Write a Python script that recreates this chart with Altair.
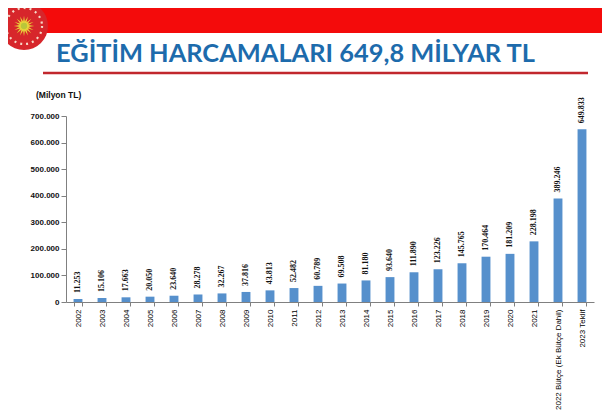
import math
import altair as alt
import pandas as pd

categories = [str(y) for y in range(2002, 2022)] + ["2022 Bütçe (Ek Bütçe Dahil)", "2023 Teklif"]
values = [11253, 15106, 17663, 20050, 23640, 28278, 32267, 37816, 43813, 52482,
          60789, 69508, 81180, 93640, 111890, 123226, 145765, 170464, 181209,
          228198, 389246, 649833]
labels = [f"{v:,}".replace(",", ".") for v in values]
y_ticks = [0, 100000, 200000, 300000, 400000, 500000, 600000, 700000]

title_text = "EĞİTİM HARCAMALARI 649,8 MİLYAR TL"
unit_text = "(Milyon TL)"

df = pd.DataFrame({"cat": categories, "value": values, "label": labels})
one = pd.DataFrame({"k": [0]})

# decorative sun-burst path for emblem
pts = []
n = 16
for i in range(2 * n):
    r = 1.0 if i % 2 == 0 else 0.45
    a = math.pi * i / n
    pts.append(f"{r*math.cos(a):.3f},{r*math.sin(a):.3f}")
sun_path = "M" + "L".join(pts) + "Z"

W, H = 528, 186

x_scale = alt.Scale(paddingInner=0.63, paddingOuter=0.315)
y_scale = alt.Scale(domain=[0, 700000], nice=False)

x_axis = alt.Axis(title=None, labelAngle=-90, labelFont="Liberation Sans",
                  labelFontSize=8, labelColor="#000000", labelPadding=3,
                  tickBand="extent", tickSize=4, tickColor="#808080",
                  domainColor="#808080", labelAlign="right",
                  labelBaseline="middle", labelOverlap=False)
y_axis = alt.Axis(title=None, values=y_ticks, grid=False,
                  labelExpr="replace(format(datum.value, ','), ',', '.')",
                  labelFont="Liberation Sans", labelFontSize=8,
                  labelFontWeight="bold", labelColor="#111111",
                  labelOverlap=False, labelFlush=False,
                  tickSize=5, tickColor="#808080", domainColor="#808080",
                  labelPadding=2)

x_enc = alt.X("cat:N", sort=categories, scale=x_scale, axis=x_axis)
y_enc = alt.Y("value:Q", scale=y_scale, axis=y_axis)

bars = alt.Chart(df).mark_bar(color="#5690cc").encode(x=x_enc, y=y_enc)
texts = alt.Chart(df).mark_text(angle=270, align="left", baseline="middle", dx=6,
                                font="Liberation Serif", fontWeight="bold",
                                fontSize=8, color="#111111").encode(
    x=x_enc, y=y_enc, text="label:N")

band = alt.Chart(one).mark_rect(color="#f40b0b").encode(
    x=alt.value(-58), x2=alt.value(W + 8), y=alt.value(-108), y2=alt.value(-83))
emblem = alt.Chart(one).mark_point(shape="circle", filled=True, color="#d7262b",
                                   size=2304, opacity=1).encode(
    x=alt.value(-42), y=alt.value(-90))
ring = alt.Chart(one).mark_point(shape="circle", filled=False, color="#f6d9c8",
                                 size=1300, strokeWidth=2.2, strokeDash=[2, 4],
                                 opacity=1).encode(
    x=alt.value(-42), y=alt.value(-90))
sun = alt.Chart(one).mark_point(shape=sun_path, filled=True, color="#e8d43a",
                                size=420, opacity=1).encode(
    x=alt.value(-42), y=alt.value(-90))
sun_core = alt.Chart(one).mark_point(shape="circle", filled=True, color="#b9c73a",
                                     size=40, opacity=1).encode(
    x=alt.value(-42), y=alt.value(-90))
title = alt.Chart(one).mark_text(text=title_text, align="left", baseline="alphabetic",
                                 font="Lato", fontWeight="bold", fontSize=25.4,
                                 color="#1d6bac").encode(
    x=alt.value(-10), y=alt.value(-54))
underline = alt.Chart(one).mark_rule(color="#c1272d", strokeWidth=2.5).encode(
    x=alt.value(-23), x2=alt.value(522), y=alt.value(-43))
unit = alt.Chart(one).mark_text(text=unit_text, align="left", baseline="middle",
                                font="Liberation Sans", fontWeight="bold", fontSize=8.5,
                                color="#111111").encode(
    x=alt.value(-30), y=alt.value(-21))

chart = alt.layer(band, emblem, ring, sun, sun_core, title, underline, unit,
                  bars, texts).properties(
    width=W, height=H,
    padding={"left": 58, "top": 108, "right": 8, "bottom": 110},
    autosize="none", background="white"
).configure_view(stroke=None)

chart.save("out.html", embed_options={"renderer": "svg", "actions": False})
